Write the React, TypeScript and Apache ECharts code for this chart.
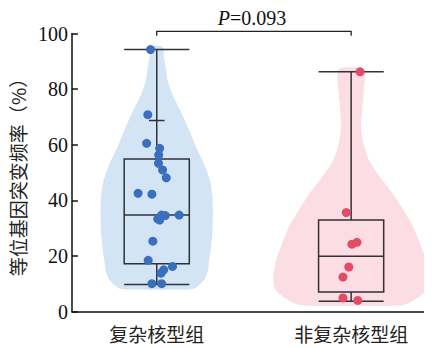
import React, { useEffect, useRef } from "react";
import * as echarts from "echarts";

const categories = ["复杂核型组", "非复杂核型组"];
const yTicks = [0, 20, 40, 60, 80, 100];
const pText = "P=0.093";

// group 1 points: [jittered x position, value]
const complexPoints: number[][] = [
  [0.968, 94.2], [0.954, 70.8], [0.948, 60.5], [1.015, 58.7], [1.01, 56.3],
  [1.009, 53.3], [1.03, 50.9], [1.049, 48.1], [0.904, 42.5], [0.975, 42.2],
  [1.025, 34.7], [1.044, 34.5], [1.115, 34.7], [1.015, 32.9], [1.005, 33.3],
  [0.98, 25.3], [0.956, 18.4], [1.081, 16.2], [1.036, 15.0], [1.022, 13.8],
  [0.975, 10.0], [1.025, 10.0],
];
const nonComplexPoints: number[][] = [
  [2.046, 86.2], [1.975, 35.6], [2.004, 24.2], [2.03, 24.9],
  [1.988, 16.0], [1.958, 12.4], [1.958, 4.9], [2.034, 4.0],
];

// box stats: [whiskerLow, q1, median, q3, whiskerHigh]
const complexBox = [9.7, 17.2, 34.7, 54.9, 94.2];
const nonComplexBox = [3.7, 7.0, 19.9, 32.9, 86.2];
const complexExtraTick = 68.7;

// violin outlines: values and half-widths (x units)
const complexViolinY = [95.5, 94.5, 92, 88, 83, 78, 71.5, 65, 59, 53, 47, 41, 35, 29, 23, 18, 15, 12, 9.5, 8.3, 7.9];
const complexViolinW = [0.02, 0.036, 0.036, 0.046, 0.056, 0.081, 0.127, 0.168, 0.203, 0.244, 0.274, 0.287, 0.289, 0.287, 0.279, 0.269, 0.264, 0.249, 0.218, 0.193, 0.152];
const nonComplexViolinY = [87.8, 87, 84.6, 78.6, 72, 66.5, 60.6, 54.5, 48.5, 42.6, 36.5, 30.4, 24.5, 18.4, 12.4, 8, 5, 3, 2.2];
const nonComplexViolinW = [0.041, 0.066, 0.071, 0.064, 0.056, 0.051, 0.063, 0.091, 0.147, 0.213, 0.269, 0.32, 0.355, 0.386, 0.401, 0.391, 0.345, 0.294, 0.254];

const BLUE_FILL = "#d3e5f4";
const BLUE_DOT = "#3b6fbe";
const PINK_FILL = "#fcdde3";
const RED_DOT = "#e14d66";
const LINE = "#2f3238";

function violinSeries(center: number, ys: number[], ws: number[], fill: string) {
  return {
    type: "custom",
    z: 1,
    silent: true,
    data: [[center, 0]],
    renderItem: (_params: any, api: any) => {
      const right = ys.map((y, i) => api.coord([center + ws[i], y]));
      const left = ys.map((y, i) => api.coord([center - ws[i], y])).reverse();
      return {
        type: "polygon",
        shape: { points: right.concat(left), smooth: 0.2 },
        style: { fill, stroke: "none" },
      };
    },
  };
}

function boxSeries(center: number, stats: number[], extra: number | null) {
  const hw = 0.1675;
  return {
    type: "custom",
    z: 3,
    silent: true,
    data: [[center, stats[2]]],
    renderItem: (_params: any, api: any) => {
      const [lo, q1, med, q3, hi] = stats;
      const style = { stroke: LINE, lineWidth: 1.5, fill: "none" };
      const p = (x: number, y: number) => api.coord([x, y]);
      const tl = p(center - hw, q3);
      const br = p(center + hw, q1);
      const children: any[] = [
        { type: "rect", shape: { x: tl[0], y: tl[1], width: br[0] - tl[0], height: br[1] - tl[1] }, style },
        { type: "line", shape: { x1: p(center - hw, med)[0], y1: p(center, med)[1], x2: p(center + hw, med)[0], y2: p(center, med)[1] }, style },
        { type: "line", shape: { x1: p(center, hi)[0], y1: p(center, hi)[1], x2: p(center, q3)[0], y2: p(center, q3)[1] }, style },
        { type: "line", shape: { x1: p(center, q1)[0], y1: p(center, q1)[1], x2: p(center, lo)[0], y2: p(center, lo)[1] }, style },
        { type: "line", shape: { x1: p(center - hw, hi)[0], y1: p(center, hi)[1], x2: p(center + hw, hi)[0], y2: p(center, hi)[1] }, style },
        { type: "line", shape: { x1: p(center - hw, lo)[0], y1: p(center, lo)[1], x2: p(center + hw, lo)[0], y2: p(center, lo)[1] }, style },
      ];
      if (extra !== null) {
        children.push({ type: "line", shape: { x1: p(center - 0.04, extra)[0], y1: p(center, extra)[1], x2: p(center + 0.04, extra)[0], y2: p(center, extra)[1] }, style });
      }
      return { type: "group", children };
    },
  };
}

export default function App() {
  const ref = useRef<HTMLDivElement>(null);
  useEffect(() => {
    if (!ref.current) return;
    const chart = echarts.init(ref.current, null, { renderer: "svg" });
    const option: any = {
      animation: false,
      backgroundColor: "#ffffff",
      grid: { left: 67, right: 0, top: 33.5, bottom: 36.5, containLabel: false },
      xAxis: {
        type: "value",
        min: 0.5635,
        max: 2.416,
        splitLine: { show: false },
        axisTick: { show: false },
        axisLine: { show: true, lineStyle: { color: "#111", width: 1.5 } },
        axisLabel: {
          customValues: [1, 2],
          formatter: (v: number) => categories[Math.round(v) - 1] || "",
          margin: 12,
          fontFamily: "Noto Sans CJK SC",
          fontSize: 19,
          color: "#222",
        },
      },
      yAxis: {
        type: "value",
        min: yTicks[0],
        max: yTicks[yTicks.length - 1],
        interval: 20,
        name: "等位基因突变频率（%）",
        nameLocation: "middle",
        nameRotate: 90,
        nameGap: 38,
        nameTextStyle: { fontFamily: "Noto Sans CJK SC", fontSize: 19, color: "#222" },
        splitLine: { show: false },
        axisLine: { show: true, lineStyle: { color: "#111", width: 1.5 } },
        axisTick: { show: true, inside: true, length: 6, lineStyle: { color: "#111", width: 1.5 } },
        axisLabel: { margin: 4, fontFamily: "Liberation Serif", fontSize: 20, color: "#111" },
      },
      series: [
        violinSeries(1, complexViolinY, complexViolinW, BLUE_FILL),
        violinSeries(2, nonComplexViolinY, nonComplexViolinW, PINK_FILL),
        boxSeries(1, complexBox, complexExtraTick),
        boxSeries(2, nonComplexBox, null),
        {
          type: "scatter",
          z: 4,
          data: complexPoints,
          symbolSize: 9,
          itemStyle: { color: BLUE_DOT, opacity: 1 },
        },
        {
          type: "scatter",
          z: 4,
          data: nonComplexPoints,
          symbolSize: 9,
          itemStyle: { color: RED_DOT, opacity: 1 },
        },
        {
          type: "custom",
          z: 5,
          silent: true,
          clip: false,
          data: [[1.5, 101]],
          renderItem: (_params: any, api: any) => {
            const a = api.coord([1, 100.8]);
            const b = api.coord([2, 100.8]);
            const a2 = api.coord([1, 99.2]);
            const t = api.coord([1.49, 105.7]);
            const style = { stroke: "#222", lineWidth: 1.3, fill: "none" };
            return {
              type: "group",
              children: [
                { type: "polyline", shape: { points: [[a2[0], a2[1]], [a[0], a[1]], [b[0], b[1]], [b[0], a2[1]]] }, style },
                {
                  type: "text",
                  x: t[0],
                  y: t[1],
                  style: {
                    text: "{i|P}=0.093",
                    rich: { i: { fontStyle: "italic", fontFamily: "Liberation Serif", fontSize: 20, fill: "#111" } },
                    fontFamily: "Liberation Serif",
                    fontSize: 20,
                    fill: "#111",
                    align: "center",
                    verticalAlign: "middle",
                  },
                },
              ],
            };
          },
        },
      ],
    };
    chart.setOption(option);
    return () => chart.dispose();
  }, []);
  return <div ref={ref} style={{ width: 432, height: 348, marginLeft: -8, marginTop: -8 }} />;
}
